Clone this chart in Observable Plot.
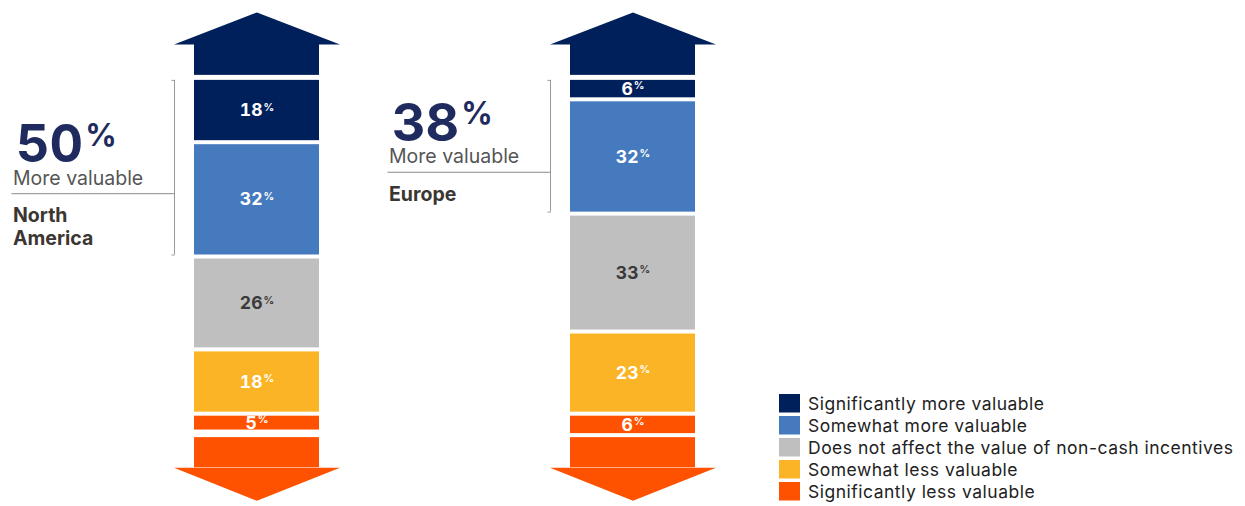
<!DOCTYPE html>
<html>
<head>
<meta charset="utf-8">
<script src="https://cdn.jsdelivr.net/npm/d3@7"></script>
<script src="https://cdn.jsdelivr.net/npm/@observablehq/plot@0.6"></script>
<style>
  body { margin: 0; background: #fff; font-family: Inter, sans-serif; }
  #wrap { position: relative; width: 1245px; height: 506px; overflow: hidden; }
  #legend { position: absolute; left: 779px; top: 394px; }
  .lg-swatches { font-family: Inter, sans-serif; font-size: 17.5px; letter-spacing: 0.5px; color: #222; margin: 0; }
  .lg-swatch { padding-bottom: 3.5px !important; height: 18.5px; white-space: nowrap; }
  .lg-swatch > svg { margin-right: 8px !important; }
</style>
</head>
<body>
<div id="wrap"><div id="chart"></div><div id="legend"></div></div>
<script>
// ---- data ----
const regions = ["North America", "Europe"];
const categories = [
  "Significantly more valuable",
  "Somewhat more valuable",
  "Does not affect the value of non-cash incentives",
  "Somewhat less valuable",
  "Significantly less valuable"
];
const colors = ["#00205B", "#457BBE", "#BFBFBF", "#FCB427", "#FF5200"];
const northAmerica = [18, 32, 26, 18, 5];
const europe = [6, 32, 33, 23, 6];
const moreValuable = [50, 38];

const seriesByRegion = [northAmerica, europe];
const rows = [];
regions.forEach((r, i) => categories.forEach((c, j) => rows.push({region: r, category: c, value: seriesByRegion[i][j]})));
const summary = regions.map((r, i) => ({
  region: r,
  more: moreValuable[i],
  share: seriesByRegion[i][0] + seriesByRegion[i][1]
}));

// decorative arrow geometry (in % units of the y scale)
const arrowTop = -9.5, arrowBottom = 109;

const headUp = {draw(ctx) { ctx.moveTo(-83, 0); ctx.lineTo(0, -32); ctx.lineTo(83, 0); ctx.closePath(); }};
const headDown = {draw(ctx) { ctx.moveTo(-83, 0); ctx.lineTo(0, 33); ctx.lineTo(83, 0); ctx.closePath(); }};
const hLine = {draw(ctx) { ctx.moveTo(-163, 0); ctx.lineTo(0, 0); }};
const tick = {draw(ctx) { ctx.moveTo(-3, 0); ctx.lineTo(0, 0); }};

const midY = d => d.share / 2;
const lineDy = 26;

const chart = Plot.plot({
  width: 1245,
  height: 506,
  marginTop: 10,
  marginBottom: 3,
  marginLeft: 193,
  marginRight: 550,
  style: {fontFamily: "Inter, sans-serif", background: "white", overflow: "visible"},
  x: {type: "band", domain: regions, paddingInner: 0.668, paddingOuter: 0, axis: null},
  y: {domain: [-19, 119], reverse: true, axis: null},
  color: {domain: categories, range: colors},
  marks: [
    // arrows
    Plot.barY(regions, {x: d => d, y1: arrowTop, y2: 0, fill: colors[0], insetBottom: 3}),
    Plot.dot(regions, {x: d => d, y: arrowTop, symbol: headUp, fill: colors[0], stroke: "none"}),
    Plot.barY(regions, {x: d => d, y1: 100, y2: arrowBottom, fill: colors[4], insetTop: 2}),
    Plot.dot(regions, {x: d => d, y: arrowBottom, symbol: headDown, fill: colors[4], stroke: "none"}),
    // stacked segments
    Plot.barY(rows, Plot.stackY({x: "region", y: "value", fill: "category", insetTop: 2, insetBottom: 2})),
    Plot.text(rows, Plot.stackY({
      x: "region", y: "value", z: "category",
      text: d => d.value,
      fill: d => d.category === categories[2] ? "#3a3a3a" : "white",
      fontSize: 17.5, fontWeight: 700,
      ariaDescription: "seg"
    })),
    // bracket
    Plot.ruleX(summary, {x: "region", y1: 0, y2: "share", dx: -82.5, stroke: "#9a9a9a", strokeWidth: 1, insetTop: 2, insetBottom: 2}),
    Plot.dot(summary, {x: "region", y: 0, dy: 2, dx: -82.5, symbol: tick, stroke: "#9a9a9a", fill: "none", strokeWidth: 1}),
    Plot.dot(summary, {x: "region", y: "share", dy: -2, dx: -82.5, symbol: tick, stroke: "#9a9a9a", fill: "none", strokeWidth: 1}),
    // annotation separator
    Plot.dot(summary, {x: "region", y: midY, dy: lineDy, dx: -82.5, symbol: hLine, stroke: "#8a8a8a", fill: "none", strokeWidth: 1}),
    // big number
    Plot.text(summary, {
      x: "region", y: midY, dy: lineDy - 31.5, dx: -241,
      text: d => d.more, textAnchor: "start", lineAnchor: "bottom",
      fontSize: 52, fontWeight: 700, fill: "#1F2A5E", ariaDescription: "big"
    }),
    Plot.text(summary, {
      x: "region", y: midY, dy: lineDy - 9, dx: -244,
      text: () => "More valuable", textAnchor: "start", lineAnchor: "bottom",
      fontSize: 19.5, fontWeight: 400, fill: "#555555"
    }),
    Plot.text(summary, {
      x: "region", y: midY, dy: lineDy + 12.5, dx: -244,
      text: "region", textAnchor: "start", lineAnchor: "top", lineWidth: 6, lineHeight: 1.16,
      fontSize: 19.5, fontWeight: 700, fill: "#3B3632"
    })
  ]
});

// superscript percent signs
chart.querySelectorAll('g[aria-description="seg"] text').forEach(t => {
  const ts = document.createElementNS("http://www.w3.org/2000/svg", "tspan");
  ts.setAttribute("dy", "-5.5");
  ts.setAttribute("dx", "1");
  ts.setAttribute("font-size", "10.5");
  ts.textContent = "%";
  t.appendChild(ts);
});
chart.querySelectorAll('g[aria-description="big"] text').forEach(t => {
  const ts = document.createElementNS("http://www.w3.org/2000/svg", "tspan");
  ts.setAttribute("dy", "-16.5");
  ts.setAttribute("dx", "2");
  ts.setAttribute("font-size", "31");
  ts.textContent = "%";
  t.appendChild(ts);
});

document.getElementById("chart").appendChild(chart);

const legend = Plot.legend({
  color: {type: "ordinal", domain: categories, range: colors},
  legend: "swatches",
  columns: 1,
  swatchWidth: 21,
  swatchHeight: 18.5,
  className: "lg"
});
document.getElementById("legend").appendChild(legend);
</script>
</body>
</html>
